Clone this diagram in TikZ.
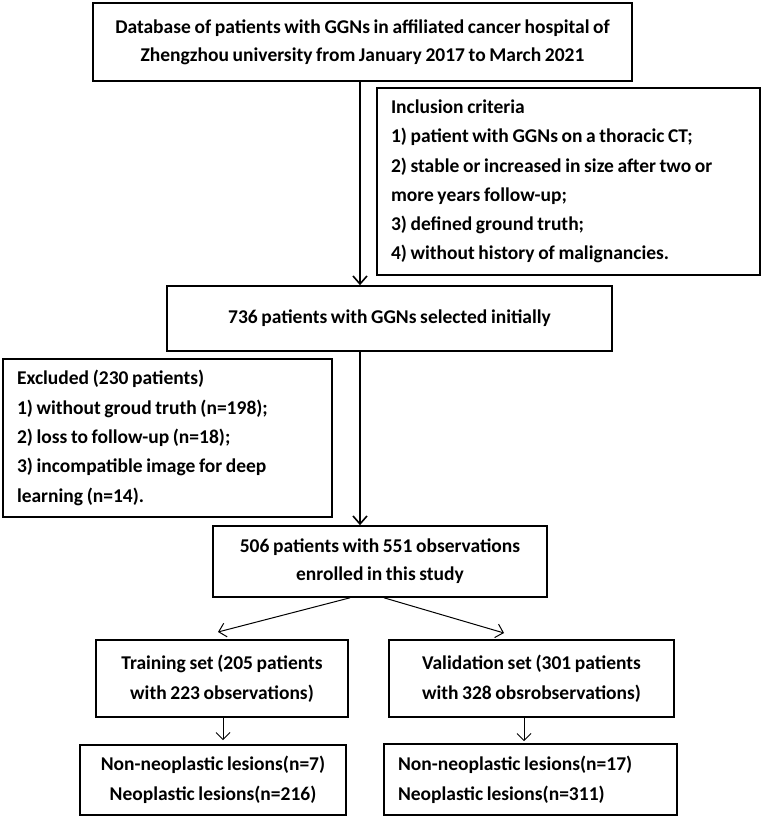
\documentclass[tikz,border=0pt]{standalone}
\usepackage{fontspec}
\setmainfont{Carlito}[WordSpace={0.82,0,0}]
\usetikzlibrary{arrows.meta,calc}
\begin{document}
\begin{tikzpicture}[x=1pt,y=-1pt,
  box/.style={draw,line width=1.6pt,inner sep=0pt,align=center,
    font=\fontsize{19.5}{28}\selectfont\bfseries},
  lbox/.style={draw,line width=1.6pt,inner xsep=14pt,inner ysep=0pt,align=flush left,
    font=\fontsize{19.5}{29.3}\selectfont\bfseries},
  mainarrow/.style={line width=1.6pt,-{Straight Barb[length=8pt,width=14pt,line width=1.6pt]}},
  thinarrow/.style={line width=1pt,-{Straight Barb[length=7pt,width=14pt,line width=1pt]}}
]
\useasboundingbox (0,0) rectangle (765,821);
\node[box,minimum width=539pt,minimum height=78pt] (db) at (362.5,42)
  {Database of patients with GGNs in affiliated cancer hospital of\\Zhengzhou university from January 2017 to March 2021};
\node[lbox,minimum width=383pt,text width=355pt,minimum height=187pt] (inc) at (568.5,181.5)
  {Inclusion criteria\\
   1) patient with GGNs on a thoracic CT;\\
   2) stable or increased in size after two or\\
   more years follow-up;\\
   3) defined ground truth;\\
   4) without history of malignancies.};
\node[box,minimum width=445pt,minimum height=65pt] (sel) at (389.5,318.5)
  {736 patients with GGNs selected initially};
\node[lbox,minimum width=329pt,text width=301pt,minimum height=158pt] (exc) at (167.5,438)
  {Excluded (230 patients)\\
   1) without groud truth (n=198);\\
   2) loss to follow-up (n=18);\\
   3) incompatible image for deep\\
   learning (n=14).};
\node[box,minimum width=334pt,minimum height=71pt] (enr) at (380,561.5)
  {506 patients with 551 observations\\enrolled in this study};
\node[box,minimum width=252pt,minimum height=77pt,font=\fontsize{19.5}{30}\selectfont\bfseries] (tr) at (222,678.5)
  {Training set (205 patients\\with 223 observations)};
\node[box,minimum width=285pt,minimum height=77pt,font=\fontsize{19.5}{30}\selectfont\bfseries] (va) at (531.5,678.5)
  {Validation set (301 patients\\with 328 obsrobservations)};
\node[box,minimum width=266pt,minimum height=70pt,font=\fontsize{19.5}{30}\selectfont\bfseries] (trr) at (213,780)
  {Non-neoplastic lesions(n=7)\\Neoplastic lesions(n=216)};
\node[lbox,minimum width=293pt,text width=265pt,minimum height=71pt,font=\fontsize{19.5}{30}\selectfont\bfseries] (var) at (530.5,779.5)
  {Non-neoplastic lesions(n=17)\\Neoplastic lesions(n=311)};
\coordinate (m) at (360,0);
\coordinate (dl1) at (350,0);
\coordinate (dl2) at (218,632);
\coordinate (dr1) at (384,0);
\coordinate (dr2) at (504,633);
\coordinate (sl) at (223,0);
\coordinate (sr) at (524,0);
\draw[mainarrow] (db.south -| m) -- (sel.north -| m);
\draw[mainarrow] (sel.south -| m) -- (enr.north -| m);
\draw[thinarrow] (enr.south -| dl1) -- (dl2);
\draw[thinarrow] (enr.south -| dr1) -- (dr2);
\draw[thinarrow,shorten >=4pt] (tr.south -| sl) -- (trr.north -| sl);
\draw[thinarrow,shorten >=2pt] (va.south -| sr) -- (var.north -| sr);
\end{tikzpicture}
\end{document}
